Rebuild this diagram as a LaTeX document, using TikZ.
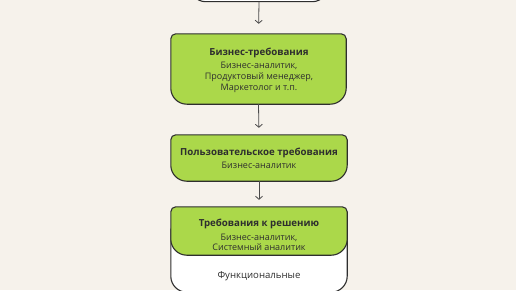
\documentclass[tikz,border=0pt]{standalone}
\usepackage{fontspec}
\setmainfont{Open Sans}
\usetikzlibrary{arrows.meta, positioning}
\definecolor{ReqBg}{HTML}{F6F2EB}
\definecolor{ReqGreen}{HTML}{ABD84A}
\definecolor{ReqLine}{HTML}{2E2E2E}
\definecolor{ReqArrow}{HTML}{4A4A4A}
\tikzset{
    % invisible frames that carry the box size
    reqframe/.style={
        rectangle,
        draw=none,
        inner sep=0pt
    },
    % texts
    titletext/.style={
        font=\fontsize{9.7}{11}\selectfont\bfseries,
        text=ReqLine
    },
    roletext/.style={
        font=\fontsize{9}{11.3}\selectfont,
        text=ReqLine,
        align=center
    },
    % arrows
    myarrow/.style={
        -{Straight Barb[length=3pt,width=7pt]},
        ReqArrow,
        line width=0.8pt
    }
}
% box with small top corners and wide bottom corners
\newcommand{\reqshape}[2]{%
    \draw[ReqLine, line width=1.1pt, fill=#1]
        ([yshift=-5pt]#2.north west) arc[start angle=180, end angle=90, radius=5pt]
        -- ([xshift=-5pt]#2.north east) arc[start angle=90, end angle=0, radius=5pt]
        -- ([yshift=16pt]#2.south east) arc[start angle=0, end angle=-90, radius=16pt]
        -- ([xshift=16pt]#2.south west) arc[start angle=270, end angle=180, radius=16pt]
        -- cycle;
}
\begin{document}
\begin{tikzpicture}[x=1pt, y=1pt]
    % background
    \fill[ReqBg] (0,0) rectangle (516,290);
    \useasboundingbox (0,0) rectangle (516,290);
    \clip (0,0) rectangle (516,290);

    % frames
    \node[reqframe, minimum width=138, minimum height=60] (top) at (259,318.5) {};
    \node[reqframe, minimum width=175, minimum height=70] (biz) at (258.5,221) {};
    \node[reqframe, minimum width=176, minimum height=46] (user) at (259,132) {};
    \node[reqframe, minimum width=176, minimum height=67] (func) at (259,31.5) {};
    \node[reqframe, minimum width=176, minimum height=48] (sol) at (259,59) {};

    % shapes
    \reqshape{white}{top}
    \reqshape{ReqGreen}{biz}
    \reqshape{ReqGreen}{user}
    \reqshape{white}{func}
    \reqshape{ReqGreen}{sol}

    % texts
    \node[titletext] (bizT) at (259,237.5) {Бизнес-требования};
    \node[roletext] (bizR) at (259,212.5) {Бизнес-аналитик,\\Продуктовый менеджер,\\Маркетолог и т.п.};
    \node[titletext] (userT) at (259,137.5) {Пользовательское требования};
    \node[roletext] (userR) at (259,124.5) {Бизнес-аналитик};
    \node[titletext] (solT) at (259,66.5) {Требования к решению};
    \node[roletext, font=\fontsize{9}{10.6}\selectfont] (solR) at (259,47.5) {Бизнес-аналитик,\\Системный аналитик};
    \node[roletext, font=\fontsize{9.6}{11}\selectfont] (funcT) at (259,13.5) {Функциональные};

    % arrows
    \draw[myarrow, shorten >=10pt] (top.south) -- (biz.north);
    \draw[myarrow, shorten >=7pt] (biz.south) -- (user.north);
    \draw[myarrow, shorten >=7pt] (user.south) -- (sol.north);
\end{tikzpicture}
\end{document}
